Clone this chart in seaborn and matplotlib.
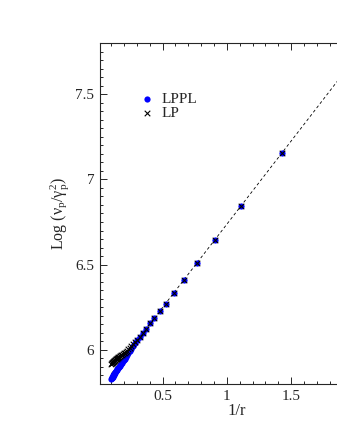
import matplotlib
matplotlib.use("Agg")
import matplotlib.pyplot as plt
import seaborn as sns
import pandas as pd
import numpy as np
from matplotlib.ticker import MultipleLocator, FixedLocator, FuncFormatter

# r values of the runs (x axis is 1/r)
r_values = [0.7, 0.9, 1.1, 1.3, 1.5, 1.7, 1.9, 2.1, 2.3, 2.5, 2.7, 2.9, 3.1, 3.3,
            3.5, 3.7, 3.9, 4.1, 4.3, 4.5, 4.7, 4.9, 5.1, 5.3, 5.5, 5.7, 5.9, 6.1,
            6.3, 6.5, 6.7, 6.9, 7.1, 7.3, 7.5, 7.7, 7.9, 8.1, 8.3, 8.5, 8.7, 8.9,
            9.1, 9.3, 9.5, 9.7, 9.9]

# Log(nu_p / gamma_p^2) for each model
lppl_values = [7.155, 6.845, 6.646, 6.508, 6.411, 6.333, 6.272, 6.226, 6.187, 6.155,
               6.124, 6.099, 6.077, 6.057, 6.038, 6.021, 6.005, 5.992, 5.980, 5.969,
               5.958, 5.949, 5.941, 5.933, 5.926, 5.919, 5.913, 5.907, 5.902, 5.896,
               5.892, 5.886, 5.882, 5.878, 5.874, 5.870, 5.865, 5.861, 5.857, 5.854,
               5.850, 5.847, 5.843, 5.840, 5.837, 5.834, 5.830]
lp_values = [7.155, 6.845, 6.646, 6.508, 6.411, 6.333, 6.272, 6.226, 6.187, 6.155,
             6.124, 6.099, 6.077, 6.057, 6.044, 6.032, 6.020, 6.011, 6.003, 5.996,
             5.989, 5.984, 5.979, 5.975, 5.971, 5.968, 5.965, 5.962, 5.959, 5.956,
             5.954, 5.951, 5.949, 5.947, 5.944, 5.942, 5.939, 5.937, 5.935, 5.934,
             5.931, 5.930, 5.927, 5.926, 5.924, 5.923, 5.920]

# dashed reference line (end points)
fit_x = [0.10, 2.15]
fit_y = [5.860, 7.858]

# labelled ticks
x_major = [0.5, 1.0, 1.5]
y_major = [6.0, 6.5, 7.0, 7.5]

df = pd.DataFrame({
    "inv_r": 1.0 / np.array(r_values),
    "LPPL": lppl_values,
    "LP": lp_values,
})
fit_df = pd.DataFrame({"x": fit_x, "y": fit_y})

sns.set_style("ticks")
plt.rcParams["font.family"] = ["Liberation Serif", "DejaVu Serif"]
plt.rcParams["mathtext.fontset"] = "custom"
plt.rcParams["mathtext.rm"] = "Liberation Serif"
plt.rcParams["mathtext.it"] = "Liberation Serif:italic"

fig = plt.figure(figsize=(3.37, 4.36), dpi=100)
ax = fig.add_axes([100 / 337, 1 - 384 / 436, 274 / 337, 341 / 436])

sns.lineplot(data=fit_df, x="x", y="y", ax=ax, color="black", lw=0.6,
             dashes=False, zorder=1)
ax.lines[0].set_dashes((3.5, 3))
sns.scatterplot(data=df, x="inv_r", y="LPPL", ax=ax, color="#0000ff", s=20,
                linewidth=0, label="LPPL", zorder=2)
sns.scatterplot(data=df, x="inv_r", y="LP", ax=ax, color="black", marker="x",
                s=16, linewidth=0.8, label="LP", zorder=3)

ax.set_xlim(0.012, 2.146)
ax.set_ylim(5.8, 7.8)
ax.xaxis.set_major_locator(FixedLocator(x_major))
ax.xaxis.set_minor_locator(MultipleLocator(0.1))
ax.yaxis.set_major_locator(FixedLocator(y_major))
ax.yaxis.set_minor_locator(MultipleLocator(0.05))
fmt = FuncFormatter(lambda v, p: "%g" % v)
ax.xaxis.set_major_formatter(fmt)
ax.yaxis.set_major_formatter(fmt)
ax.tick_params(which="both", direction="in", top=True, right=True,
               width=0.7, labelsize=11, pad=4)
ax.tick_params(which="major", length=4.8)
ax.tick_params(which="minor", length=2.5)
for s in ax.spines.values():
    s.set_linewidth(0.8)

ax.set_xlabel("1/r", fontsize=12, labelpad=0)
ax.set_ylabel(r"Log ($\mathrm{ν}_\mathrm{p}$/$\mathrm{γ}^{2}_\mathrm{p}$)",
              fontsize=11.5, labelpad=3)

ax.legend(loc="upper left", bbox_to_anchor=(0.12, 0.872), frameon=False,
          fontsize=11, handlelength=1, handletextpad=0.5, labelspacing=0.0,
          borderaxespad=0)

fig.savefig("out.png", dpi=100)
